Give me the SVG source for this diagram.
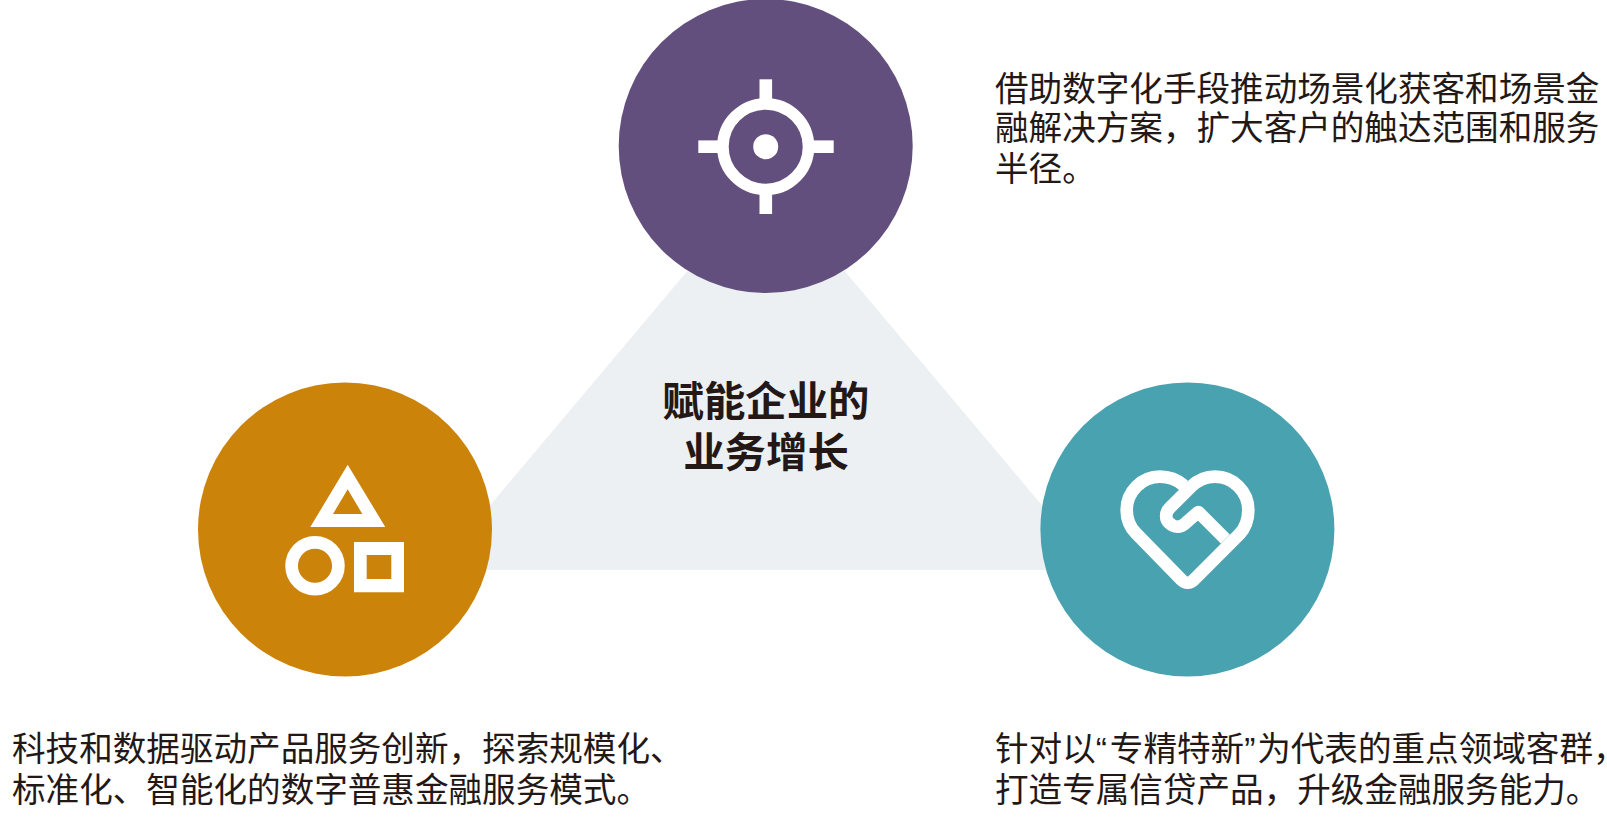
<svg xmlns="http://www.w3.org/2000/svg" width="1607" height="827" viewBox="0 0 1607 827">
<style>
text{font-family:"Noto Sans CJK SC","Noto Sans",sans-serif;fill:#231815}
.b{font-size:33.6px}
.t{font-size:41.4px;font-weight:700;text-anchor:middle}
.q{font-family:"Liberation Sans",sans-serif}
.w{fill:#fff}
</style>
<rect width="1607" height="827" fill="#fff"/>
<g id="center">
<polygon points="766,177.5 1096.5,570 435.6,570" fill="#ecf0f3"/>
<text class="t" x="766" y="416">赋能企业的</text>
<text class="t" x="766" y="466.5">业务增长</text>
</g>
<g id="node-target">
<circle cx="765.7" cy="146" r="147" fill="#634f7d"/>
<circle cx="765.7" cy="146.7" r="42.8" fill="none" stroke="#fff" stroke-width="11.6"/>
<circle class="w" cx="765.7" cy="146.7" r="12.5"/>
<rect class="w" x="759.5" y="79.3" width="12.6" height="22"/>
<rect class="w" x="759.5" y="192" width="12.6" height="22"/>
<rect class="w" x="698.3" y="140.4" width="22" height="12.6"/>
<rect class="w" x="811.7" y="140.4" width="22" height="12.6"/>
<text class="b" x="995" y="101">借助数字化手段推动场景化获客和场景金</text>
<text class="b" x="995" y="140">融解决方案，扩大客户的触达范围和服务</text>
<text class="b" x="995" y="181">半径。</text>
</g>
<g id="node-shapes">
<circle cx="345" cy="529.5" r="147" fill="#cb8309"/>
<path class="w" fill-rule="evenodd" d="M347.7 464.7L385.3 527H310.3ZM347.7 489.3L333 514H362.3Z"/>
<circle cx="315" cy="565.7" r="23.4" fill="none" stroke="#fff" stroke-width="12.7"/>
<path class="w" fill-rule="evenodd" d="M354 542H404V592.3H354ZM366.7 555V579H391.3V555Z"/>
<text class="b" x="12" y="761">科技和数据驱动产品服务创新，探索规模化、</text>
<text class="b" x="12" y="802">标准化、智能化的数字普惠金融服务模式。</text>
</g>
<g id="node-heart">
<circle cx="1187.4" cy="529.5" r="147" fill="#49a2af"/>
<g transform="translate(1100 450) scale(.3333)" fill="none" stroke="#fff" stroke-width="38" stroke-linejoin="round">
<path d="M251 106C230 88 205 80 180 80C125 80 80 125 80 180C80 207 90 232 108 250L245 390C255 401 271 401 281 390L418 253C435 235 445 207 445 180C445 125 400 80 345 80C318 80 293 91 273 110L209 174C195 188 195 208 209 220C222 233 242 233 256 220L295 186L376 267"/>
</g>
<text class="b" x="995" y="761">针对以<tspan class="q" x="1095.8">“</tspan><tspan x="1109.8">专精特新</tspan><tspan class="q" x="1244.2">”</tspan><tspan x="1257.2">为代表的重点领域客群，</tspan></text>
<text class="b" x="995" y="802">打造专属信贷产品，升级金融服务能力。</text>
</g>
</svg>
